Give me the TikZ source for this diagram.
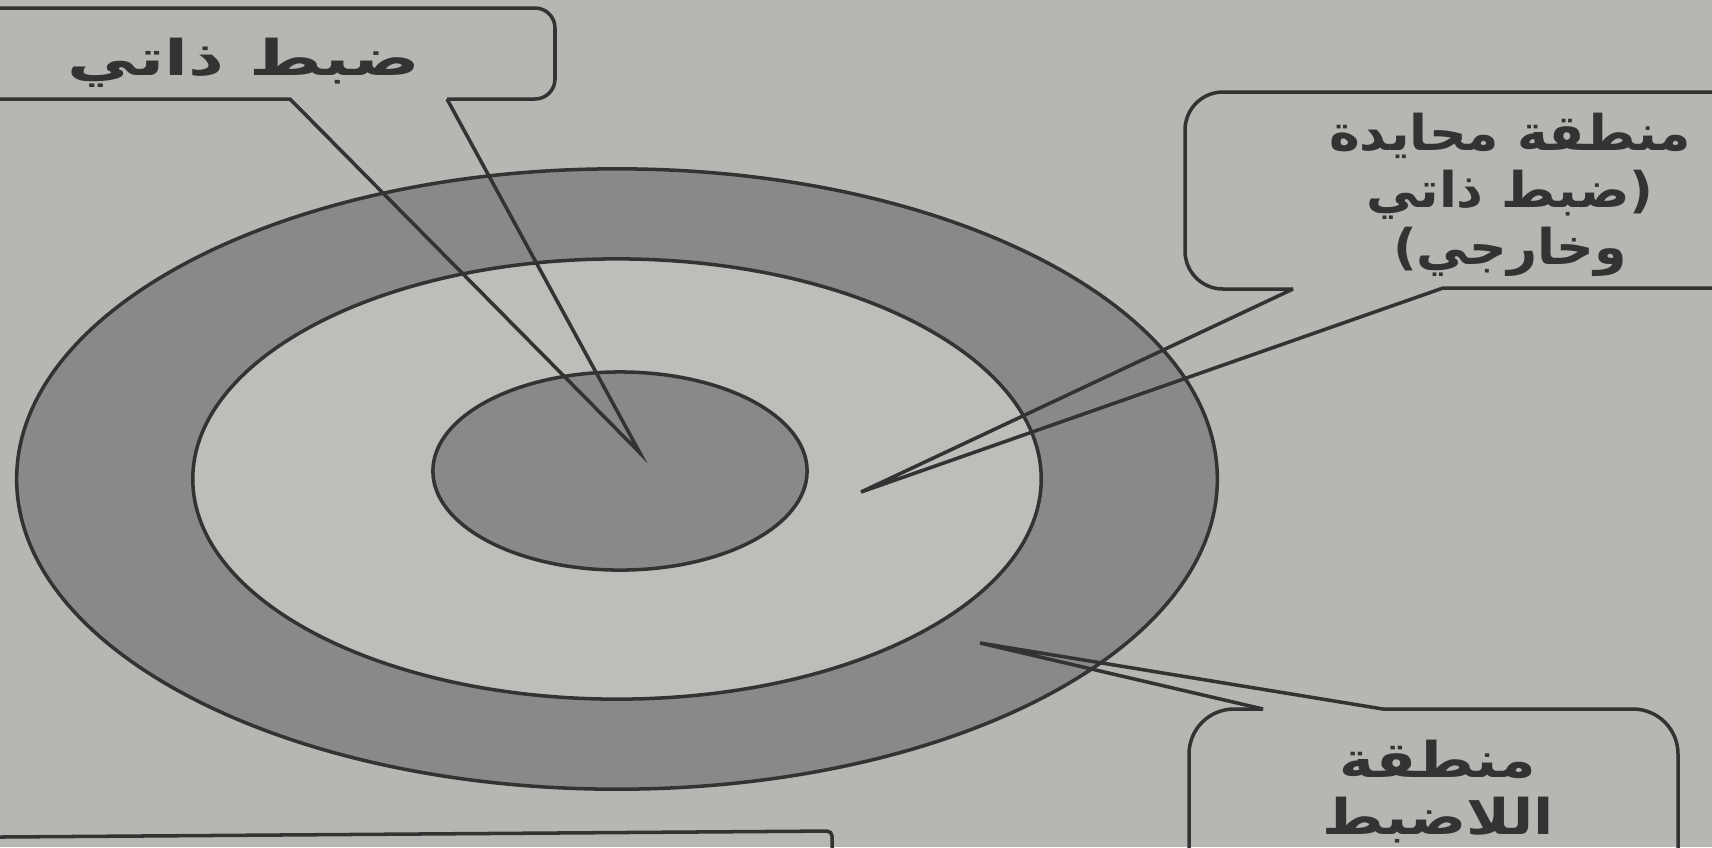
\documentclass[tikz,border=0pt]{standalone}
\usepackage{fontspec}
\newfontfamily\arabicfont[Script=Arabic,FakeStretch=1.2]{DejaVu Sans}
\newfontfamily\arabicwide[Script=Arabic,FakeStretch=1.42]{DejaVu Sans}
\newfontfamily\arabicnarrow[Script=Arabic,FakeStretch=1.06]{DejaVu Sans}
\TeXXeTstate=1
\definecolor{paper}{RGB}{183,182,178}
\definecolor{shade}{RGB}{138,136,136}
\definecolor{pale}{RGB}{190,189,186}
\definecolor{ink}{RGB}{52,50,50}
\tikzset{
  zone text/.style={font=#1\bfseries\fontsize{14}{16.2}\selectfont, text=ink, align=center, inner sep=0pt},
  zone text/.default=\arabicfont,
  edge line/.style={draw=ink, line width=1pt},
}

\begin{document}
\begin{tikzpicture}[x=0.01cm,y=-0.01cm]
        \useasboundingbox (0,0) rectangle (1712,847);
        \fill[paper] (0,0) rectangle (1712,847);
        \filldraw[fill=shade, edge line] (617,479) ellipse [x radius=6cm, y radius=3.1cm];
        \filldraw[fill=pale, edge line] (617,479) ellipse [x radius=4.24cm, y radius=2.2cm];
        \filldraw[fill=shade, edge line] (620,471) ellipse [x radius=1.87cm, y radius=0.99cm];

        \coordinate (selftip) at (640,453);
        \coordinate (selfa) at (290,99);
        \coordinate (selfb) at (447,99);
        \coordinate (neutip) at (861,492);
        \coordinate (neua) at (1293,289);
        \coordinate (neub) at (1443,288);
        \coordinate (outtip) at (980,643);
        \coordinate (outa) at (1263,709);
        \coordinate (outb) at (1383,709);

        \draw[edge line] (0,99) -- (selfa) -- (selftip) -- (selfb);
        \draw[edge line, rounded corners=2mm] (selfb) -- (555,99) -- (555,8) -- (0,8);

        \draw[edge line, rounded corners=3.8mm] (1712,92) -- (1185,92) -- (1185,289) -- (neua);
        \draw[edge line] (neua) -- (neutip) -- (neub) -- (1712,288);

        \draw[edge line, rounded corners=4.5mm] (outa) -- (1189,709) -- (1189,860);
        \draw[edge line] (outa) -- (outtip) -- (outb);
        \draw[edge line, rounded corners=4.5mm] (outb) -- (1678,709) -- (1678,860);

        \draw[edge line, rounded corners=0.5mm] (0,837) -- (832,831) -- (832,860);

        \node[zone text=\arabicwide] (selftext) at (244,63) {\beginR ضبط ذاتي\endR};
        \node[zone text=\arabicnarrow] (neutext) at (1510,195) {\beginR منطقة محايدة\endR\\\beginR (ضبط ذاتي\endR\\\beginR وخارجي)\endR};
        \node[zone text] (outtext) at (1438,792) {\beginR منطقة\endR\\\beginR اللاضبط\endR};
    \end{tikzpicture}
\end{document}
